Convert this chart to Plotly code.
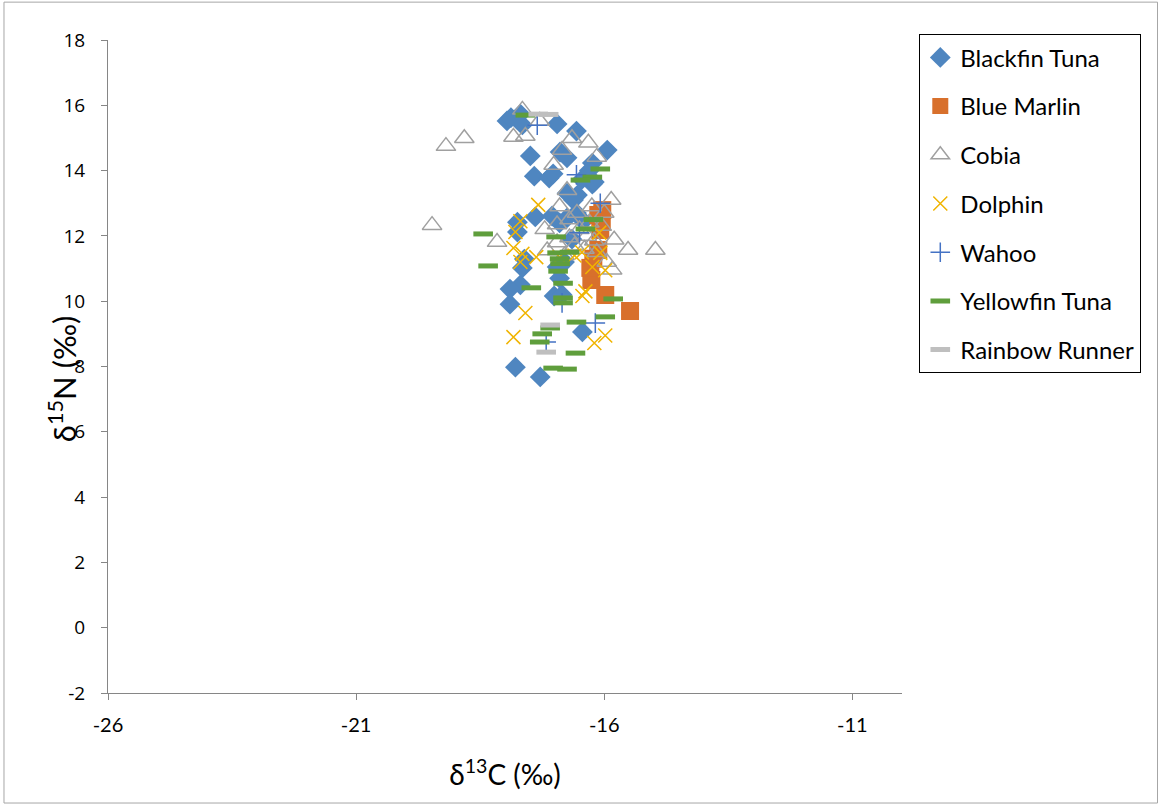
import plotly.graph_objects as go

# δ13C / δ15N values per species
blackfin_x = [-17.96, -17.88, -17.69, -17.65, -16.95, -16.56, -15.94, -17.49, -16.89, -16.75,
              -16.24, -17.41, -17.11, -17.03, -16.54, -16.24, -16.45, -16.75, -16.62, -17.39,
              -17.05, -16.56, -16.42, -16.75, -16.90, -17.75, -17.75, -17.61, -17.65, -17.69,
              -17.90, -17.90, -17.01, -16.85, -16.95, -16.90, -16.44, -17.79, -17.29, -16.30,
              -16.20, -16.65, -16.80]
blackfin_y = [15.52, 15.62, 15.73, 15.40, 15.43, 15.21, 14.63, 14.45, 14.57, 14.39,
              14.23, 13.83, 13.77, 13.90, 13.25, 13.59, 13.73, 13.31, 13.10, 12.58,
              12.61, 12.70, 12.45, 12.55, 12.40, 12.42, 12.12, 11.29, 11.02, 10.50,
              10.37, 9.91, 10.16, 10.20, 11.05, 10.70, 9.06, 7.98, 7.68, 14.00,
              13.65, 11.90, 11.20]

marlin_x = [-15.48, -15.98, -16.26, -16.28, -16.12, -16.08, -16.12, -16.04, -16.22, -16.05]
marlin_y = [9.70, 10.19, 10.65, 11.02, 11.57, 12.18, 12.64, 12.79, 11.30, 12.45]

cobia_x = [-19.47, -19.19, -18.82, -18.16, -17.83, -17.59, -17.65, -17.30, -16.65, -16.32,
           -16.15, -16.85, -17.02, -16.75, -15.86, -15.84, -15.52, -14.97, -15.80, -16.00,
           -16.90, -17.20, -16.95, -16.70, -16.50, -16.35, -16.20, -16.05, -16.60, -16.40,
           -16.80, -16.95, -16.30, -16.15, -15.95, -16.55, -16.25, -17.15, -16.70]
cobia_y = [12.33, 14.75, 14.99, 11.81, 15.03, 15.06, 15.86, 15.52, 14.99, 14.85,
           14.42, 14.63, 14.17, 13.40, 13.10, 10.96, 11.57, 11.57, 11.88, 12.70,
           12.90, 12.20, 12.35, 12.50, 12.20, 12.00, 11.85, 12.30, 11.70, 11.60,
           11.40, 11.80, 12.40, 11.50, 11.20, 12.70, 12.90, 11.55, 11.95]

dolphin_x = [-17.33, -17.69, -17.79, -17.83, -17.65, -17.69, -17.37, -17.59, -17.83, -16.44,
             -16.38, -16.08, -16.24, -15.98, -16.20, -15.98, -16.45, -16.60, -16.10, -16.90]
dolphin_y = [12.95, 12.45, 12.12, 11.63, 11.45, 11.20, 11.35, 9.64, 8.90, 10.16,
             10.30, 11.48, 11.05, 10.95, 8.72, 8.95, 11.50, 11.40, 12.10, 11.35]

wahoo_x = [-17.35, -16.56, -16.08, -16.85, -16.18, -17.17, -16.50]
wahoo_y = [15.39, 13.87, 13.00, 9.95, 9.33, 8.75, 12.10]

yellowfin_x = [-17.59, -16.08, -16.24, -16.48, -18.44, -18.34, -17.47, -16.97, -16.38, -16.95,
               -16.89, -16.93, -16.83, -16.83, -16.83, -17.09, -17.25, -17.30, -16.56, -15.82,
               -15.98, -16.58, -17.03, -16.75, -16.22, -16.90, -16.70]
yellowfin_y = [15.70, 14.05, 13.80, 13.71, 12.06, 11.08, 10.41, 11.97, 12.21, 11.48,
               11.15, 10.92, 10.55, 10.10, 9.95, 9.18, 9.00, 8.75, 9.36, 10.07,
               9.52, 8.41, 7.95, 7.92, 12.50, 11.30, 11.50]

runner_x = [-17.33, -17.09, -17.17, -17.12]
runner_y = [15.73, 9.27, 8.44, 15.72]

# axis ticks (plain hyphen minus signs)
x_ticks = [-26, -21, -16, -11]
y_ticks = [-2, 0, 2, 4, 6, 8, 10, 12, 14, 16, 18]

FONT = "Lato, 'Open Sans', sans-serif"

series = [
    ("Blackfin Tuna", blackfin_x, blackfin_y,
     dict(symbol="diamond", size=16, color="#4f86c0", line=dict(width=0))),
    ("Blue Marlin", marlin_x, marlin_y,
     dict(symbol="square", size=18, color="#d8702c", line=dict(width=0))),
    ("Cobia", cobia_x, cobia_y,
     dict(symbol="triangle-up-open", size=17, color="#a0a0a0", line=dict(width=1.5))),
    ("Dolphin", dolphin_x, dolphin_y,
     dict(symbol="x-thin-open", size=14, color="#f0b400", line=dict(width=1.5, color="#f0b400"))),
    ("Wahoo", wahoo_x, wahoo_y,
     dict(symbol="cross-thin-open", size=14, color="#4472c4", line=dict(width=1.5, color="#4472c4"))),
    ("Yellowfin Tuna", yellowfin_x, yellowfin_y,
     dict(symbol="line-ew-open", size=14, color="#5f9e3c", line=dict(width=5, color="#5f9e3c"))),
    ("Rainbow Runner", runner_x, runner_y,
     dict(symbol="line-ew-open", size=14, color="#bfbfbf", line=dict(width=5, color="#bfbfbf"))),
]

fig = go.Figure()
for name, xs, ys, mk in series:
    fig.add_trace(go.Scatter(x=xs, y=ys, mode="markers", name=name,
                             legendgroup=name, marker=mk))

axis_common = dict(
    showgrid=False, zeroline=False, showline=True, linecolor="#868686", linewidth=1,
    ticks="outside", tickcolor="#868686", ticklen=6,
)

fig.update_layout(
    width=1158, height=804,
    margin=dict(l=108, r=256, t=40, b=111),
    paper_bgcolor="white", plot_bgcolor="white",
    font=dict(family=FONT, color="#000000"),
    xaxis=dict(range=[-26, -10], tickvals=x_ticks, ticktext=[str(v) for v in x_ticks],
               tickfont=dict(size=20, family=FONT), ticklabelstandoff=8,
               title=dict(text="δ<sup>13</sup>C (‰)", font=dict(size=28, family=FONT), standoff=30),
               **axis_common),
    yaxis=dict(range=[-2, 18], tickvals=y_ticks, ticktext=[str(v) for v in y_ticks],
               tickfont=dict(size=19, family="'Open Sans', sans-serif"), ticklabelstandoff=12,
               **axis_common),
    annotations=[dict(text="δ<sup>15</sup>N (‰)", xref="paper", yref="paper",
                      x=-0.058, y=0.482, xanchor="center", yanchor="middle",
                      textangle=-90, showarrow=False,
                      font=dict(size=31, family=FONT))],
    legend=dict(
        x=1.0214, y=1.0092, xanchor="left", yanchor="top",
        bordercolor="#000000", borderwidth=1.3, bgcolor="white",
        font=dict(size=24, family=FONT),
        traceorder="grouped", tracegroupgap=14.5,
    ),
    shapes=[dict(type="rect", xref="paper", yref="paper",
                 x0=-0.131, x1=1.3218, y0=-0.1685, y1=1.058,
                 line=dict(color="#a6a6a6", width=1))],
    showlegend=True,
)

fig.write_html("out.html")
